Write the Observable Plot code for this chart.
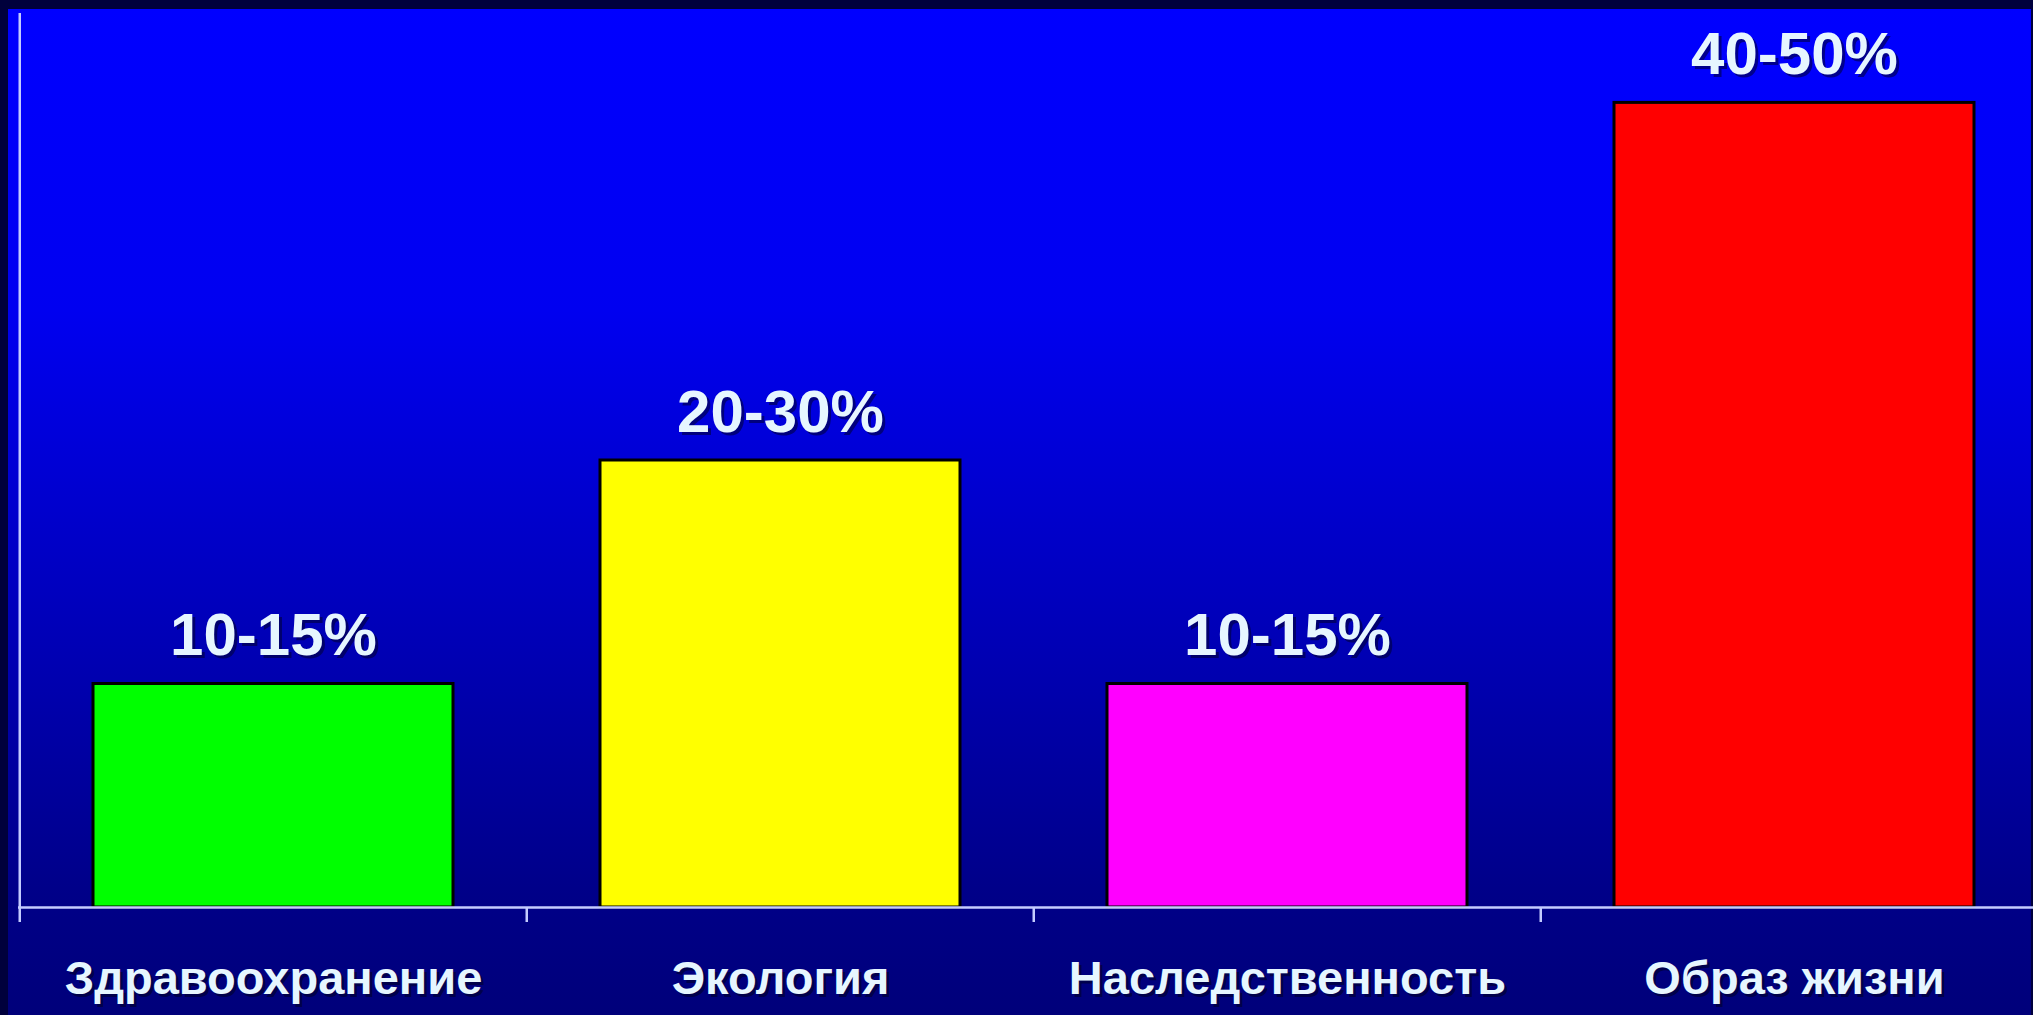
<!DOCTYPE html>
<html>
<head>
<meta charset="utf-8">
<script src="https://cdn.jsdelivr.net/npm/d3@7"></script>
<script src="https://cdn.jsdelivr.net/npm/@observablehq/plot@0.6"></script>
<style>
  html, body { margin: 0; padding: 0; overflow: hidden; background: #00003c; }
  #wrap { position: relative; width: 2033px; height: 1015px; }
  #bg { position: absolute; left: 8px; top: 9px; right: 2px; bottom: 0;
        background: linear-gradient(to bottom, #0000ff 0%, #0000f0 30%, #0000bb 60%, #000088 88%, #00007a 100%); }
  #chart { position: absolute; left: 0; top: 0; }
</style>
</head>
<body>
<div id="wrap"><div id="bg"></div><div id="chart"></div></div>
<script>
const categories = ["Здравоохранение", "Экология", "Наследственность", "Образ жизни"];
const values = [12.5, 25, 12.5, 45];
const valueLabels = ["10-15%", "20-30%", "10-15%", "40-50%"];
const barColors = ["#00ff00", "#ffff00", "#ff00ff", "#ff0000"];

const data = categories.map((c, i) => ({category: c, value: values[i], label: valueLabels[i], color: barColors[i]}));

const W = 2033, H = 1015;
const mL = 18, mR = -15, mT = 13, mB = 108;
const step = (W - mR - mL) / categories.length;
const font = "'Liberation Sans', Arial, Helvetica, sans-serif";
const textColor = "#e6f6ff";
const axisColor = "#c4ccff";

const plot = Plot.plot({
  width: W,
  height: H,
  marginLeft: mL,
  marginRight: mR,
  marginTop: mT,
  marginBottom: mB,
  style: {background: "transparent", overflow: "visible", fontFamily: font},
  x: {domain: categories, paddingInner: 0.29, paddingOuter: 0.145, axis: null},
  y: {domain: [0, 50], axis: null},
  color: {type: "identity"},
  marks: [
    Plot.barY(data, {x: "category", y: "value", fill: "color", stroke: "#000000", strokeWidth: 3}),
    Plot.ruleY([0], {stroke: axisColor, strokeWidth: 2.5}),
    Plot.ruleX([categories[0]], {dx: -step / 2, stroke: axisColor, strokeWidth: 2.5}),
    Plot.axisX(categories, {tickSize: 15, tickFormat: () => "", dx: -step / 2, stroke: axisColor, strokeWidth: 2.5, label: null}),
    // value labels (shadow + text)
    Plot.text(data, {x: "category", y: "value", text: "label", lineAnchor: "bottom", dy: -29 + 3, dx: 3,
      fill: "#000030", fillOpacity: 0.55, fontSize: 60, fontWeight: "bold", fontFamily: font}),
    Plot.text(data, {x: "category", y: "value", text: "label", lineAnchor: "bottom", dy: -29,
      fill: textColor, fontSize: 60, fontWeight: "bold", fontFamily: font}),
    // category labels (shadow + text)
    Plot.text(categories, {x: d => d, frameAnchor: "bottom", lineAnchor: "bottom", dy: 86 + 3, dx: 3,
      fill: "#000020", fillOpacity: 0.55, fontSize: 47, fontWeight: "bold", fontFamily: font}),
    Plot.text(categories, {x: d => d, frameAnchor: "bottom", lineAnchor: "bottom", dy: 86,
      fill: textColor, fontSize: 47, fontWeight: "bold", fontFamily: font})
  ]
});
document.getElementById("chart").appendChild(plot);
</script>
</body>
</html>
